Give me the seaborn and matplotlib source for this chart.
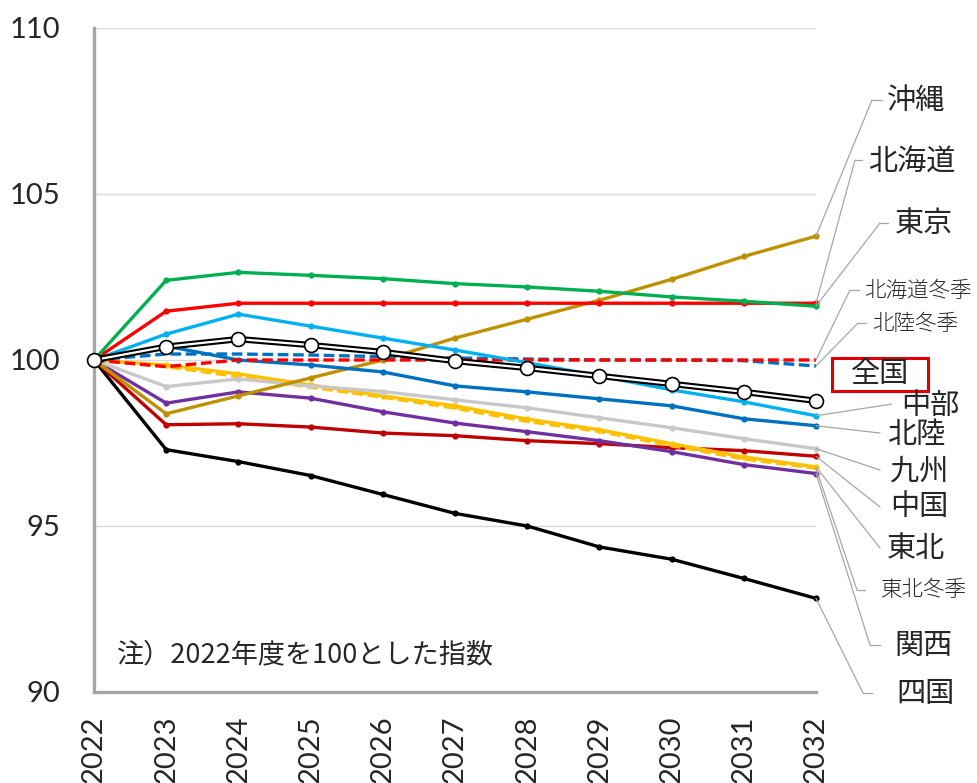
import matplotlib
matplotlib.use("Agg")
import matplotlib.pyplot as plt
from matplotlib.lines import Line2D
from matplotlib.patches import Rectangle
import pandas as pd
import seaborn as sns

# ---- data: index with fiscal 2022 = 100 ----
years = list(range(2022, 2033))
tokyo = [100, 102.40, 102.64, 102.55, 102.45, 102.30, 102.20, 102.07, 101.90, 101.77, 101.62]
hokkaido = [100, 101.47, 101.71, 101.71, 101.71, 101.71, 101.71, 101.71, 101.71, 101.71, 101.71]
chubu = [100, 100.78, 101.38, 101.02, 100.66, 100.30, 99.92, 99.52, 99.10, 98.74, 98.32]
zenkoku = [100, 100.40, 100.63, 100.45, 100.24, 99.97, 99.76, 99.52, 99.28, 99.04, 98.77]
hokuriku = [100, 100.42, 100.00, 99.85, 99.64, 99.22, 99.04, 98.83, 98.62, 98.23, 98.02]
hokuriku_winter = [100, 100.18, 100.18, 100.15, 100.10, 100.06, 100.03, 100.00, 100.00, 99.98, 99.82]
hokkaido_winter = [100, 99.80, 100.00, 100.00, 100.00, 100.00, 100.00, 100.00, 100.00, 100.00, 100.00]
kyushu = [100, 99.20, 99.43, 99.22, 99.05, 98.80, 98.56, 98.26, 97.96, 97.63, 97.33]
tohoku = [100, 99.85, 99.58, 99.25, 98.92, 98.62, 98.22, 97.90, 97.48, 97.08, 96.78]
tohoku_winter = [100, 99.80, 99.50, 99.18, 98.88, 98.55, 98.15, 97.85, 97.42, 97.02, 96.74]
kansai = [100, 98.70, 99.04, 98.85, 98.44, 98.10, 97.84, 97.57, 97.24, 96.85, 96.58]
okinawa = [100, 98.38, 98.92, 99.46, 100.00, 100.66, 101.23, 101.80, 102.43, 103.12, 103.73]
chugoku = [100, 98.05, 98.08, 97.98, 97.80, 97.72, 97.57, 97.48, 97.36, 97.27, 97.10]
shikoku = [100, 97.30, 96.94, 96.52, 95.95, 95.38, 95.00, 94.37, 94.00, 93.42, 92.82]

y_ticks = [90, 95, 100, 105, 110]
note = "注）2022年度を100とした指数"

# (label, values, colour, dashed, small label font)
series = [
    ("四国", shikoku, "#000000", False),
    ("中国", chugoku, "#C00000", False),
    ("関西", kansai, "#7030A0", False),
    ("東北冬季", tohoku_winter, "#FFC000", True),
    ("東北", tohoku, "#FFC000", False),
    ("九州", kyushu, "#C8C8C8", False),
    ("沖縄", okinawa, "#BF9000", False),
    ("北陸", hokuriku, "#0070C0", False),
    ("北陸冬季", hokuriku_winter, "#0070C0", True),
    ("北海道冬季", hokkaido_winter, "#FF0000", True),
    ("中部", chubu, "#00B0F0", False),
    ("北海道", hokkaido, "#FF0000", False),
    ("東京", tokyo, "#00B050", False),
]

sns.set_style("white")
plt.rcParams["font.family"] = ["Noto Sans CJK JP", "DejaVu Sans"]

W, H = 978, 783
fig = plt.figure(figsize=(W / 100, H / 100), dpi=100)
ax = fig.add_axes([94 / W, (H - 692) / H, (816 - 94) / W, (692 - 28) / H])

for name, vals, col, dashed in series:
    df = pd.DataFrame({"year": years, "index": vals})
    kw = dict(x="year", y="index", data=df, ax=ax, color=col, lw=2.4, zorder=3)
    if dashed:
        sns.lineplot(**kw, linestyle=(0, (3.2, 1.4)))
    else:
        sns.lineplot(**kw, marker="o", markersize=4.5, markeredgewidth=0)

# national average: double line with open circle markers
df_all = pd.DataFrame({"year": years, "index": zenkoku})
sns.lineplot(x="year", y="index", data=df_all, ax=ax, color="black", lw=4.6, zorder=5)
sns.lineplot(x="year", y="index", data=df_all, ax=ax, color="white", lw=1.6, zorder=6,
             marker="o", markersize=10, markerfacecolor="white",
             markeredgecolor="black", markeredgewidth=1.2)
for ln in ax.lines:
    ln.set_clip_on(False)

ax.set_xlim(2022, 2032)
ax.set_ylim(90, 110)
ax.set_xticks(years)
ax.set_xticklabels([str(y) for y in years], rotation=90, fontsize=21,
                   family=["Lato", "DejaVu Sans"], va="top")
ax.set_yticks(y_ticks)
ax.set_yticklabels([str(v) for v in y_ticks], fontsize=21, family=["Lato", "DejaVu Sans"])
ax.tick_params(axis="x", length=0, pad=17)
ax.tick_params(axis="y", length=0, pad=24)
ax.set_xlabel("")
ax.set_ylabel("")
for v in y_ticks[1:]:
    ax.axhline(v, color="#D9D9D9", lw=1, zorder=1)
for s in ["top", "right"]:
    ax.spines[s].set_visible(False)
for s in ["left", "bottom"]:
    ax.spines[s].set_color("#A6A6A6")
    ax.spines[s].set_linewidth(2.4)
    ax.spines[s].set_zorder(2)

ax.text(117 / 722 * 0 + (117 - 94) / (816 - 94), (692 - 655) / (692 - 28), note,
        transform=ax.transAxes, fontsize=19.5, va="center", ha="left")

# right-hand labels with leader lines
lead_col = "#A6A6A6"
labels = [
    # name, value at 2032, elbow (px), end of short horizontal (px), text x, text y, size
    ("沖縄", okinawa[-1], (872, 100), (882, 100), 887, 101, 21),
    ("北海道", hokkaido[-1], (855, 160), (862, 160), 868, 162, 21),
    ("東京", tokyo[-1], (880, 223), (888, 223), 895, 224, 21),
    ("北海道冬季", hokkaido_winter[-1], (850, 290), (859, 290), 864, 291, 15.5),
    ("北陸冬季", hokuriku_winter[-1], (858, 323), (866, 323), 872, 324, 15.5),
    ("中部", chubu[-1], (892, 404), None, 901, 406, 21),
    ("北陸", hokuriku[-1], (880, 433), None, 887, 435, 21),
    ("九州", kyushu[-1], (880, 470), None, 890, 472, 21),
    ("中国", chugoku[-1], (880, 507), None, 890, 507, 21),
    ("東北", tohoku[-1], (880, 548), None, 887, 549, 21),
    ("東北冬季", tohoku_winter[-1], (857, 590), (865, 590), 881, 590, 15.5),
    ("関西", kansai[-1], (870, 645), (880, 645), 894, 646, 21),
    ("四国", shikoku[-1], (863, 693), (872, 693), 896, 694, 21),
]
for name, v, elbow, hend, tx, ty, fs in labels:
    ax.annotate("", xy=(2032, v), xycoords="data",
                xytext=(elbow[0], H - elbow[1]), textcoords="figure pixels",
                arrowprops=dict(arrowstyle="-", color=lead_col, lw=0.9,
                                shrinkA=0, shrinkB=0),
                annotation_clip=False)
    if hend is not None:
        fig.add_artist(Line2D([elbow[0] / W, hend[0] / W], [1 - elbow[1] / H, 1 - hend[1] / H],
                              transform=fig.transFigure, color=lead_col, lw=0.9))
    fig.text(tx / W, 1 - ty / H, name, fontsize=fs, va="center", ha="left",
             fontweight="light" if fs < 20 else "normal")

# national average label in a red box
fig.add_artist(Rectangle((832 / W, 1 - 391 / H), 96 / W, 33 / H, transform=fig.transFigure,
                         fill=False, edgecolor="#E00000", lw=2.2))
fig.text(880 / W, 1 - 374 / H, "全国", fontsize=21, va="center", ha="center")

fig.savefig("out.png", dpi=100, facecolor="white")
